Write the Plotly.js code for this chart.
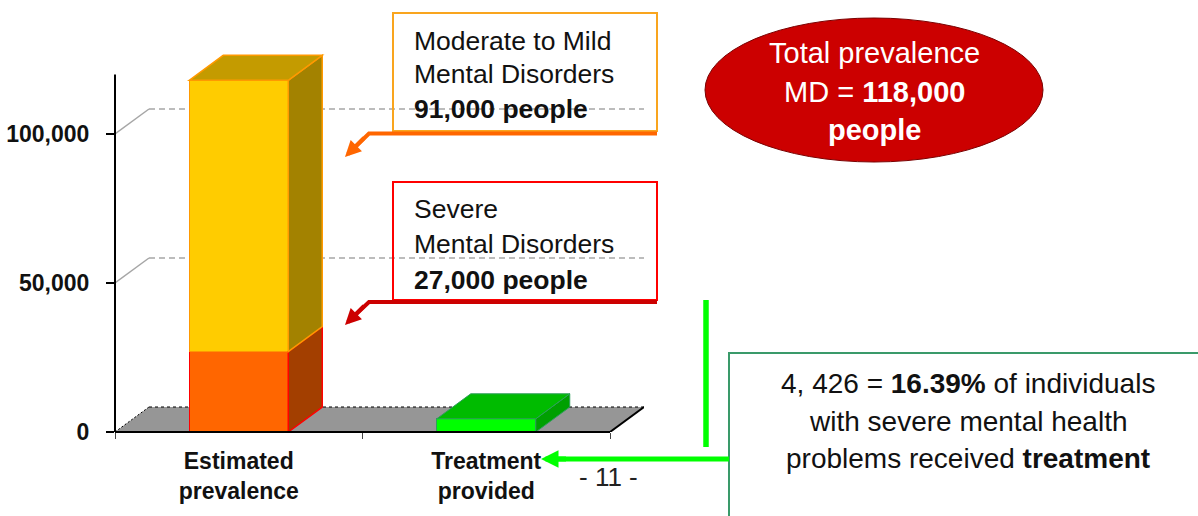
<!DOCTYPE html>
<html>
<head>
<meta charset="utf-8">
<script src="https://cdn.plot.ly/plotly-3.0.1.min.js"></script>
<style>
  html, body { margin: 0; padding: 0; background: #ffffff; }
  #chart { width: 1198px; height: 516px; }
</style>
</head>
<body>
<div id="chart"></div>
<script>
// ---- data ----
const categories = ['Estimated<br>prevalence', 'Treatment<br>provided'];
const severe   = [27000, null];   // severe mental disorders
const moderate = [91000, null];   // moderate to mild mental disorders
const treated  = [null, 4426];    // people who received treatment
const yTicks   = [0, 50000, 100000];
const slideNo  = '- 11 -';

// ---- geometry of the pseudo-3D frame (pixels) ----
const FIG_W = 1198, FIG_H = 516;
const PLOT_L = 115;              // front plane left edge
const PLOT_B = 432;              // front floor line
const PLOT_T = 50;
const CAT_PX = 247.5;            // one category slot on the front plane
const Y_PX = 149 / 50000;        // pixels per person on the value axis
const DEPTH_X = 34, DEPTH_Y = 25;
const BAR_W = 0.4;
const AXIS_MAX = 120000;

const PLOT_W = categories.length * CAT_PX + DEPTH_X;
const PLOT_H = PLOT_B - PLOT_T;
const dxu = DEPTH_X / CAT_PX;    // depth offset in category units
const dyu = DEPTH_Y / Y_PX;      // depth offset in value units
const xMin = -0.5, xMax = categories.length - 0.5;

const FONT = 'Liberation Sans, Arial, Helvetica, sans-serif';
const fmt = n => n.toLocaleString('en-US');

// pixel -> paper helpers for the callouts
const px = x => (x - PLOT_L) / PLOT_W;
const py = y => (PLOT_B - y) / PLOT_H;

// ---- bar front faces ----
const series = [
  { name: 'Severe', values: severe, front: '#FF6600', side: '#A33F00', top: '#C25000', edge: '#FF0000', ew: 1.5 },
  { name: 'Moderate to mild', values: moderate, front: '#FFCC00', side: '#A38200', top: '#C49B00', edge: '#FF9900', ew: 1.5 },
  { name: 'Treated', values: treated, front: '#00FF00', side: '#00A000', top: '#00BB00', edge: '#2E9E5B', ew: 1 }
];

const traces = series.map(s => ({
  type: 'bar',
  name: s.name,
  x: categories,
  y: s.values,
  width: BAR_W,
  marker: { color: s.front, line: { color: s.edge, width: s.ew } },
  hoverinfo: 'skip',
  showlegend: false
}));

// ---- shapes: floor, back-wall gridlines, side and top faces ----
const shapes = [];
const poly = pts => 'M' + pts.map(p => p[0] + ',' + p[1]).join('L') + 'Z';

// floor
shapes.push({
  type: 'path', xref: 'x', yref: 'y', layer: 'below',
  path: poly([[xMin, 0], [xMax, 0], [xMax + dxu, dyu], [xMin + dxu, dyu]]),
  fillcolor: '#969696', line: { width: 0 }
});
shapes.push({ type: 'line', xref: 'x', yref: 'y', layer: 'below',
  x0: xMin + dxu, y0: dyu, x1: xMax + dxu, y1: dyu,
  line: { color: '#000000', width: 1, dash: '3px,3px' } });
shapes.push({ type: 'line', xref: 'x', yref: 'y', layer: 'below',
  x0: xMin, y0: 0, x1: xMin + dxu, y1: dyu,
  line: { color: '#000000', width: 1, dash: '2px,2px' } });
shapes.push({ type: 'line', xref: 'x', yref: 'y', layer: 'below',
  x0: xMax, y0: 0, x1: xMax + dxu, y1: dyu,
  line: { color: '#000000', width: 2 } });

// gridlines folded onto the back wall
yTicks.filter(v => v > 0).forEach(v => {
  shapes.push({ type: 'line', xref: 'x', yref: 'y', layer: 'below',
    x0: xMin, y0: v, x1: xMin + dxu, y1: v + dyu,
    line: { color: '#A6A6A6', width: 1.5 } });
  shapes.push({ type: 'line', xref: 'x', yref: 'y', layer: 'below',
    x0: xMin + dxu, y0: v + dyu, x1: xMax + dxu, y1: v + dyu,
    line: { color: '#A6A6A6', width: 1.5, dash: '6px,4px' } });
});

// side and top faces of each stacked segment
categories.forEach((c, i) => {
  let base = 0;
  const segs = series.filter(s => s.values[i] != null && s.values[i] > 0);
  segs.forEach((s, k) => {
    const y0 = base, y1 = base + s.values[i];
    const xl = i - BAR_W / 2, xr = i + BAR_W / 2;
    shapes.push({
      type: 'path', xref: 'x', yref: 'y', layer: 'above',
      path: poly([[xr, y0], [xr + dxu, y0 + dyu], [xr + dxu, y1 + dyu], [xr, y1]]),
      fillcolor: s.side, line: { color: s.edge, width: s.ew }
    });
    if (k === segs.length - 1) {
      shapes.push({
        type: 'path', xref: 'x', yref: 'y', layer: 'above',
        path: poly([[xl, y1], [xl + dxu, y1 + dyu], [xr + dxu, y1 + dyu], [xr, y1]]),
        fillcolor: s.top, line: { color: s.edge, width: s.ew }
      });
    }
    base = y1;
  });
});

// axis lines of the front plane
shapes.push({ type: 'line', xref: 'paper', yref: 'y', layer: 'above',
  x0: 0, x1: 0, y0: 0, y1: AXIS_MAX, line: { color: '#000000', width: 2 } });
shapes.push({ type: 'line', xref: 'x', yref: 'paper', layer: 'above',
  x0: xMin, x1: xMax, y0: 0, y1: 0, line: { color: '#000000', width: 2 } });

// ---- callouts ----
const rect = (x0, y0, x1, y1, color, w) => ({
  type: 'rect', xref: 'paper', yref: 'paper', layer: 'above',
  x0: px(x0), x1: px(x1), y0: py(y1), y1: py(y0),
  line: { color: color, width: w }, fillcolor: 'rgba(0,0,0,0)'
});
const segPath = (pts, color, w) => ({
  type: 'path', xref: 'paper', yref: 'paper', layer: 'above',
  path: 'M' + pts.map(p => px(p[0]) + ',' + py(p[1])).join('L'),
  line: { color: color, width: w }
});

shapes.push(rect(393, 13, 657, 131, '#F9A51E', 2));
shapes.push(rect(393, 182, 657, 300, '#FF0000', 2));
shapes.push(rect(729, 353, 1215, 540, '#3A9A6A', 2));
shapes.push({
  type: 'circle', xref: 'paper', yref: 'paper', layer: 'above',
  x0: px(705), x1: px(1043), y0: py(162), y1: py(18),
  fillcolor: '#CC0000', line: { color: '#7A0000', width: 1 }
});

shapes.push(segPath([[657, 133.5], [369, 133.5], [352, 150]], '#FF6600', 4));
shapes.push(segPath([[657, 302], [369, 302], [352, 318]], '#CC0000', 4));
shapes.push(segPath([[706, 300], [706, 447]], '#00FF00', 5.5));
shapes.push(segPath([[729, 459], [556, 459]], '#00FF00', 5));

const txt = (text, x, y, size, opts) => Object.assign({
  xref: 'paper', yref: 'paper', x: px(x), y: py(y), text: text,
  showarrow: false, xanchor: 'left', yanchor: 'middle',
  font: { family: FONT, size: size, color: '#111111' }
}, opts || {});

const arrowHead = (tx, ty, ax, ay, color, w, size) => ({
  xref: 'paper', yref: 'paper', x: px(tx), y: py(ty), text: ' ',
  showarrow: true, ax: ax, ay: ay, arrowhead: 2, arrowsize: size,
  arrowwidth: w, arrowcolor: color, standoff: 0
});

const total = moderate[0] + severe[0];
const share = (treated[1] / severe[0] * 100).toFixed(2);
const treatedText = fmt(treated[1]).replace(',', ', ');
const white = { family: FONT, size: 29, color: '#FFFFFF' };

const annotations = [
  txt('Moderate to Mild', 412, 41, 26.5),
  txt('Mental Disorders', 412, 74, 26.5),
  txt('<b>' + fmt(moderate[0]) + ' people</b>', 412, 109, 26.5),
  txt('Severe', 412, 209, 26.5),
  txt('Mental Disorders', 412, 244, 26.5),
  txt('<b>' + fmt(severe[0]) + ' people</b>', 412, 280, 26.5),
  txt('Total prevalence', 874, 53, 29, { xanchor: 'center', font: white }),
  txt('MD = <b>' + fmt(total) + '</b>', 874, 92, 29, { xanchor: 'center', font: white }),
  txt('<b>people</b>', 874, 130, 29, { xanchor: 'center', font: white }),
  txt(treatedText + ' = <b>' + share + '%</b> of individuals', 968, 383, 28, { xanchor: 'center' }),
  txt('with severe mental health', 968, 421, 28, { xanchor: 'center' }),
  txt('problems received <b>treatment</b>', 968, 458, 28, { xanchor: 'center' }),
  txt(slideNo, 608, 477, 26, { xanchor: 'center', font: { family: FONT, size: 26, color: '#222222' } }),
  arrowHead(345, 157, 22, -22, '#FF6600', 4, 0.8),
  arrowHead(345, 325, 22, -22, '#CC0000', 4, 0.8),
  arrowHead(541, 459, 28, 0, '#00FF00', 5, 0.7)
];

const layout = {
  width: FIG_W, height: FIG_H,
  margin: { l: PLOT_L, r: FIG_W - PLOT_L - PLOT_W, t: PLOT_T, b: FIG_H - PLOT_B, pad: 0, autoexpand: false },
  paper_bgcolor: '#ffffff', plot_bgcolor: 'rgba(0,0,0,0)',
  barmode: 'stack', bargap: 0, hovermode: false, showlegend: false,
  xaxis: {
    type: 'category', range: [xMin, xMax + dxu], fixedrange: true,
    showline: false, showgrid: false, zeroline: false,
    ticks: 'outside', tickson: 'boundaries', ticklen: 6, tickwidth: 1, tickcolor: '#444444',
    tickfont: { family: FONT, size: 23, color: '#111111', weight: 'bold' },
    ticklabelstandoff: 13
  },
  yaxis: {
    range: [0, PLOT_H / Y_PX], fixedrange: true,
    tickvals: yTicks, tickformat: ',d',
    showline: false, showgrid: false, zeroline: false,
    ticks: 'outside', ticklen: 8, tickwidth: 1.5, tickcolor: '#000000',
    tickfont: { family: FONT, size: 23, color: '#111111', weight: 'bold' },
    ticklabelstandoff: 12
  },
  shapes: shapes,
  annotations: annotations
};

Plotly.newPlot('chart', traces, layout, { displayModeBar: false, staticPlot: true });
</script>
</body>
</html>
